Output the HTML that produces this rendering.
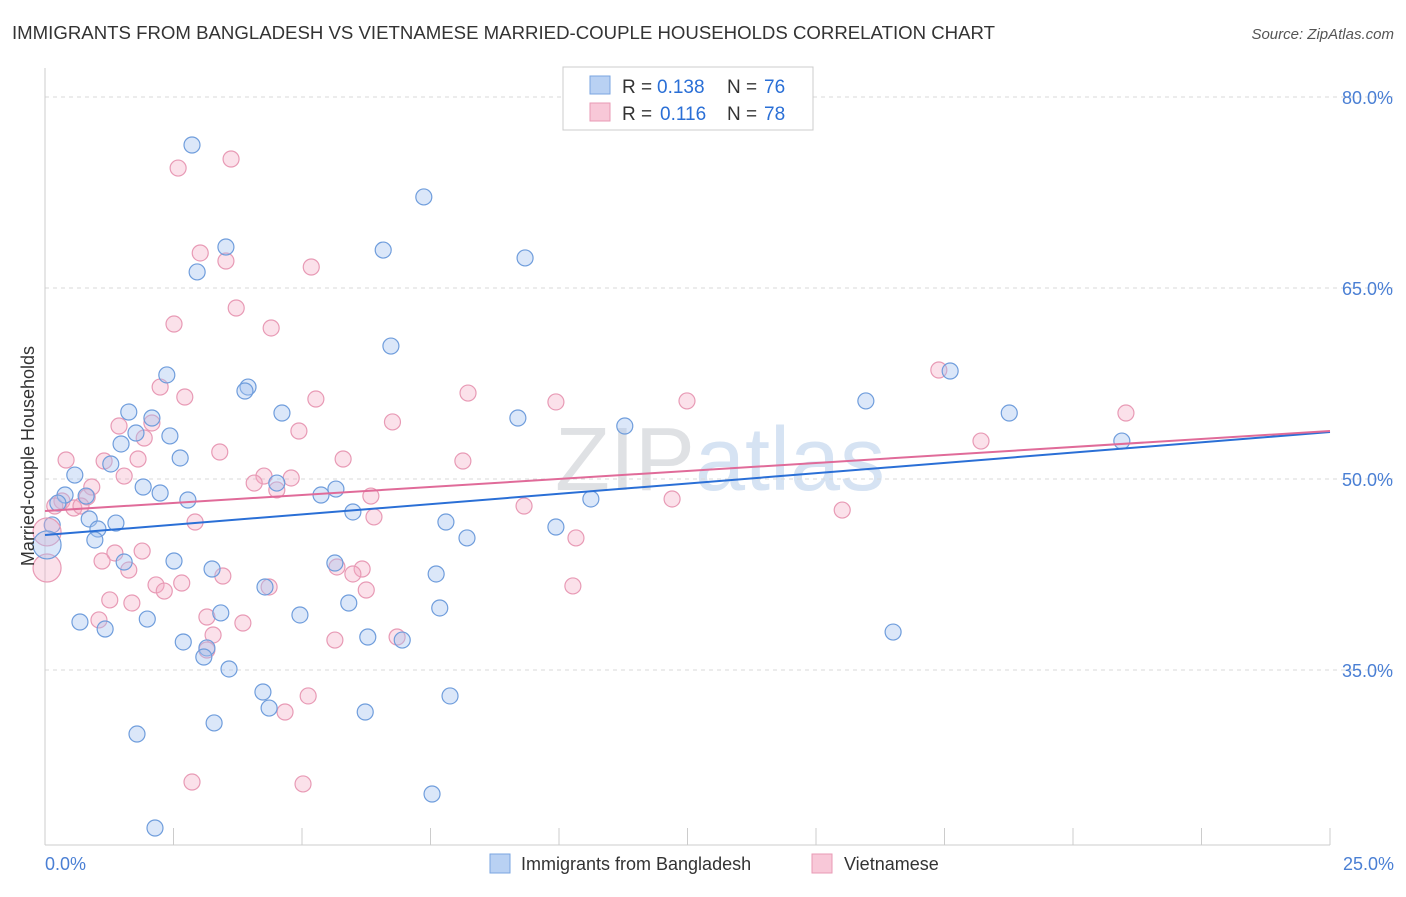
<!DOCTYPE html>
<html><head><meta charset="utf-8"><style>
body{margin:0;background:#fff;font-family:"Liberation Sans",sans-serif;}
svg text{font-family:"Liberation Sans",sans-serif;}
</style></head><body>
<svg id="c" width="1406" height="892">
<text x="12" y="39" font-size="18" fill="#333" textLength="983" lengthAdjust="spacingAndGlyphs">IMMIGRANTS FROM BANGLADESH VS VIETNAMESE MARRIED-COUPLE HOUSEHOLDS CORRELATION CHART</text>
<text x="1394" y="39" font-size="15" fill="#555" font-style="italic" text-anchor="end">Source: ZipAtlas.com</text>
<text x="720" y="490" font-size="90" fill="#e3e6ea" text-anchor="middle" font-family="Liberation Serif"><tspan fill="#dfe1e4">ZIP</tspan><tspan fill="#d6e3f3" font-family="Liberation Sans">atlas</tspan></text>
<g id="grid"></g>
<g id="marks"></g>
<text transform="translate(34,456) rotate(-90)" font-size="18" fill="#333" text-anchor="middle">Married-couple Households</text>
<text x="45" y="870" font-size="18" fill="#4a7fd4">0.0%</text>
<text x="1394" y="870" font-size="18" fill="#4a7fd4" text-anchor="end">25.0%</text>
<g>
<rect x="563" y="67" width="250" height="63" fill="#fff" stroke="#ccc"/>
<rect x="590" y="76" width="20" height="18" fill="#b9d1f3" stroke="#7aa5e0"/>
<text x="622" y="93" font-size="19" fill="#333">R =</text>
<text x="657" y="93" font-size="19" fill="#2a6fd6">0.138</text>
<text x="727" y="93" font-size="19" fill="#333">N =</text>
<text x="764" y="93" font-size="19" fill="#2a6fd6">76</text>
<rect x="590" y="103" width="20" height="18" fill="#f8c8d8" stroke="#e89ab5"/>
<text x="622" y="120" font-size="19" fill="#333">R =</text>
<text x="660" y="120" font-size="19" fill="#2a6fd6">0.116</text>
<text x="727" y="120" font-size="19" fill="#333">N =</text>
<text x="764" y="120" font-size="19" fill="#2a6fd6">78</text>
</g>
<g>
<rect x="490" y="854" width="20" height="19" fill="#b9d1f3" stroke="#7aa5e0"/>
<text x="521" y="870" font-size="18" fill="#333">Immigrants from Bangladesh</text>
<rect x="812" y="854" width="20" height="19" fill="#f8c8d8" stroke="#e89ab5"/>
<text x="844" y="870" font-size="18" fill="#333">Vietnamese</text>
</g>
</svg>
<script>
const yTicks=[80,65,50,35];
const xTicks=[0,2.5,5,7.5,10,12.5,15,17.5,20,22.5,25];
const blueX=[2.86,7.37,3.52,6.58,2.96,9.34,6.73,2.37,3.95,3.89,1.63,4.61,2.08,9.20,15.97,18.76,11.28,1.77,2.43,1.48,20.95,17.61,2.63,1.28,0.58,1.91,2.24,4.51,2.78,0.39,0.80,0.25,5.37,5.66,10.62,5.99,0.86,1.38,1.03,0.97,7.80,9.94,8.21,0.14,1.54,2.51,3.25,5.64,4.28,7.61,5.91,7.68,3.42,4.96,0.68,1.17,1.99,2.69,6.28,6.95,16.50,3.15,3.09,3.58,4.24,7.88,4.36,3.29,6.23,1.79,7.53,2.14];
const blueY=[76.23,72.15,68.22,67.98,66.26,67.36,60.44,58.17,57.22,56.91,55.26,55.18,54.79,54.79,56.13,55.18,54.16,53.61,53.38,52.75,52.98,58.48,51.65,51.18,50.31,49.37,48.90,49.68,48.35,48.74,48.66,48.11,48.74,49.21,48.43,47.41,46.86,46.54,46.07,45.21,46.62,46.23,45.37,46.39,43.48,43.56,42.93,43.40,41.52,42.54,40.26,39.87,39.48,39.32,38.77,38.22,39.00,37.20,37.59,37.35,37.98,36.73,36.02,35.08,33.27,32.96,32.01,30.84,31.70,29.97,25.26,22.59];
const pinkX=[3.62,2.59,3.02,3.52,5.18,3.72,2.51,4.40,2.24,2.72,5.27,8.23,9.94,12.49,17.39,21.03,6.76,2.08,1.44,1.93,4.94,18.21,3.40,0.41,1.15,1.81,5.80,8.13,1.54,4.26,4.79,4.07,4.51,0.91,0.82,0.33,6.34,12.20,0.19,0.56,0.70,9.32,15.51,6.40,2.92,10.33,1.36,1.89,1.11,1.63,5.68,6.17,5.99,3.46,2.16,2.66,2.32,4.36,6.25,10.27,1.26,1.69,3.15,1.05,3.85,3.27,5.64,6.85,3.15,5.12,4.67,2.86,5.02];
const pinkY=[75.13,74.42,67.75,67.12,66.65,63.43,62.17,61.86,57.22,56.44,56.28,56.75,56.05,56.13,58.56,55.18,54.48,54.40,54.16,53.22,53.77,52.98,52.12,51.49,51.41,51.57,51.57,51.41,50.23,50.23,50.08,49.68,49.14,49.37,48.58,48.27,48.66,48.43,47.88,47.72,47.88,47.88,47.56,47.02,46.62,45.37,44.19,44.34,43.56,42.85,43.09,42.93,42.54,42.38,41.68,41.83,41.20,41.52,41.28,41.60,40.50,40.26,39.16,38.93,38.69,37.75,37.35,37.59,36.57,32.96,31.70,26.20,26.05];
const bigBlueX=[0.04], bigBlueY=[44.82];
const bigPinkX=[0.04,0.04], bigPinkY=[45.84,43.01];
const blueTrend=[45.60,53.69];
const pinkTrend=[47.49,53.77];
const sx=v=>45+v/25*1285;
const sy=v=>97+(80-v)*12.733;
const NS='http://www.w3.org/2000/svg';
const grid=document.getElementById('grid'),marks=document.getElementById('marks');
function mk(tag,attrs,parent){const e=document.createElementNS(NS,tag);for(const k in attrs)e.setAttribute(k,attrs[k]);parent.appendChild(e);return e;}
yTicks.forEach(t=>{
 const l=mk('line',{x1:45,x2:1395,y1:sy(t),y2:sy(t),stroke:'#d8d8d8','stroke-dasharray':'4,4'},grid);
 
 
 const tx=mk('text',{x:1393,y:sy(t)+7,'font-size':18,fill:'#4a7fd4','text-anchor':'end'},grid);
 tx.textContent=t.toFixed(1)+'%';
 
 
});
const ax=mk('line',{x1:45,x2:45,y1:68,y2:845,stroke:'#ccc'},grid);


const bx=mk('line',{x1:45,x2:1330,y1:845,y2:845,stroke:'#ccc'},grid);


xTicks.forEach(t=>{
 const l=mk('line',{x1:sx(t),x2:sx(t),y1:828,y2:845,stroke:'#ccc'},grid);
 
 
});
function pts(xs,ys,r,fill,stroke,name){
 xs.forEach((x,i)=>{
  const c=mk('circle',{cx:sx(x),cy:sy(ys[i]),r:r,fill:fill,stroke:stroke,'stroke-width':1.2},marks);
  
  
 });
}
pts(pinkX,pinkY,8,'rgba(244,170,196,0.35)','#e89ab5','point-vietnamese');
pts(blueX,blueY,8,'rgba(164,194,240,0.4)','#6f9ddc','point-bangladesh');
pts(bigPinkX,bigPinkY,14,'rgba(244,170,196,0.35)','#e89ab5','point-vietnamese');
pts(bigBlueX,bigBlueY,14,'rgba(164,194,240,0.4)','#6f9ddc','point-bangladesh');
const tb=mk('line',{x1:sx(0),x2:sx(25),y1:sy(blueTrend[0]),y2:sy(blueTrend[1]),stroke:'#2a6fd6','stroke-width':2},marks);


const tp=mk('line',{x1:sx(0),x2:sx(25),y1:sy(pinkTrend[0]),y2:sy(pinkTrend[1]),stroke:'#e06b99','stroke-width':2},marks);


</script>
</body></html>
